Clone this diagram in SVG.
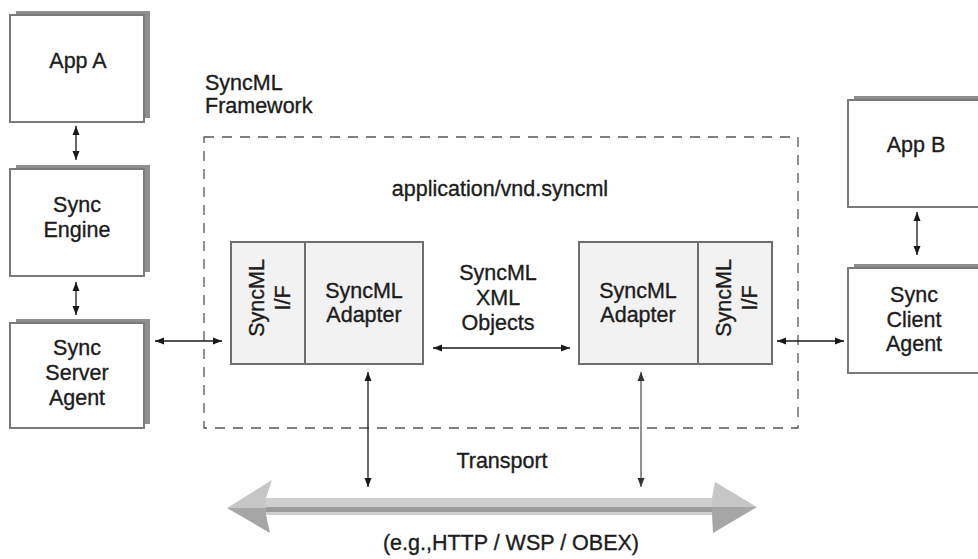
<svg xmlns="http://www.w3.org/2000/svg" width="978" height="559" viewBox="0 0 978 559">
<defs>
<marker id="ah" markerUnits="userSpaceOnUse" markerWidth="10" markerHeight="8" refX="9" refY="3.5" orient="auto-start-reverse" viewBox="0 0 10 7">
<path d="M0,0 L9,3.5 L0,7 z" fill="#1a1a1a"/>
</marker>
<marker id="ahg" markerUnits="userSpaceOnUse" markerWidth="10" markerHeight="8" refX="9" refY="3.5" orient="auto-start-reverse" viewBox="0 0 10 7">
<path d="M0,0 L9,3.5 L0,7 z" fill="#333"/>
</marker>
</defs>
<style>
text{font-family:"Liberation Sans",Arial,sans-serif;font-size:21.5px;fill:#1c1c1c;stroke:#1c1c1c;stroke-width:0.35;text-anchor:middle}
.lt{text-anchor:start}
.shadow{fill:#8e8e8e}
.box{fill:#fff;stroke:#7a7a7a;stroke-width:2}
.blk{fill:#f2f2f2;stroke:#6e6e6e;stroke-width:2}
.frame{fill:none;stroke:#555;stroke-width:1.3;stroke-dasharray:10,8}
.con{fill:none;stroke:#1a1a1a;stroke-width:1.3;marker-start:url(#ah);marker-end:url(#ah)}
.cong{fill:none;stroke:#777;stroke-width:1.6;marker-start:url(#ahg);marker-end:url(#ahg)}
</style>
<rect width="978" height="559" fill="#fff"/>

<g id="framework">
<rect class="frame" x="204" y="137" width="594" height="291"/>
<text class="lt" x="205" y="90">SyncML</text>
<text class="lt" x="205" y="113">Framework</text>
<text x="500" y="196">application/vnd.syncml</text>
</g>

<g id="app-a">
<rect class="shadow" x="16" y="11" width="134" height="107"/>
<rect class="box" x="10" y="15" width="134" height="107"/>
<text x="78" y="68">App A</text>
</g>

<g id="sync-engine">
<rect class="shadow" x="16" y="165" width="134" height="107"/>
<rect class="box" x="10" y="169" width="134" height="107"/>
<text x="77" y="212">Sync</text>
<text x="77" y="237">Engine</text>
</g>

<g id="sync-server-agent">
<rect class="shadow" x="16" y="319" width="134" height="105"/>
<rect class="box" x="10" y="323" width="134" height="105"/>
<text x="77" y="355">Sync</text>
<text x="77" y="380">Server</text>
<text x="77" y="405">Agent</text>
</g>

<g id="app-b">
<rect class="shadow" x="854" y="96" width="134" height="107"/>
<rect class="box" x="848" y="100" width="134" height="107"/>
<text x="916" y="152">App B</text>
</g>

<g id="sync-client-agent">
<rect class="shadow" x="854" y="264" width="134" height="105"/>
<rect class="box" x="848" y="268" width="134" height="105"/>
<text x="914" y="302">Sync</text>
<text x="914" y="327">Client</text>
<text x="914" y="351">Agent</text>
</g>

<g id="left-adapter">
<rect class="blk" x="231" y="242" width="192" height="122"/>
<line x1="305" y1="242" x2="305" y2="364" stroke="#6e6e6e" stroke-width="2"/>
<text transform="translate(264,298) rotate(-90)">SyncML</text>
<text transform="translate(290,298) rotate(-90)">I/F</text>
<text x="364" y="298">SyncML</text>
<text x="364" y="322">Adapter</text>
</g>

<g id="right-adapter">
<rect class="blk" x="579" y="242" width="193" height="122"/>
<line x1="698" y1="242" x2="698" y2="364" stroke="#6e6e6e" stroke-width="2"/>
<text x="638" y="298">SyncML</text>
<text x="638" y="322">Adapter</text>
<text transform="translate(731,298) rotate(-90)">SyncML</text>
<text transform="translate(757,298) rotate(-90)">I/F</text>
</g>

<g id="xml-objects">
<text x="498" y="280">SyncML</text>
<text x="498" y="305">XML</text>
<text x="498" y="330">Objects</text>
</g>

<g id="transport">
<rect x="266" y="498" width="450" height="17" fill="#cfcfcf"/>
<rect x="266" y="507" width="450" height="5" fill="#9c9c9c"/>
<polygon points="227,508 272,480 266,498 266,508" fill="#c6c6c6"/>
<polygon points="227,508 266,508 266,515 270,533" fill="#a6a6a6"/>
<polygon points="757,507 715,482 712,498 712,507" fill="#c6c6c6"/>
<polygon points="757,507 712,507 712,515 713,533" fill="#a6a6a6"/>
<text x="502" y="468">Transport</text>
<text x="511" y="550">(e.g.,HTTP / WSP / OBEX)</text>
</g>

<g id="connectors">
<line class="con" x1="76" y1="126" x2="76" y2="160"/>
<line class="con" x1="76" y1="282" x2="76" y2="315"/>
<line class="con" x1="917" y1="212" x2="917" y2="255"/>
<line class="con" x1="155" y1="341" x2="222" y2="341"/>
<line class="con" x1="777" y1="341" x2="844" y2="341"/>
<line class="con" x1="433" y1="348" x2="570" y2="348"/>
<line class="con" x1="368" y1="372" x2="368" y2="487"/>
<line class="cong" x1="641" y1="372" x2="641" y2="487"/>
</g>
</svg>
